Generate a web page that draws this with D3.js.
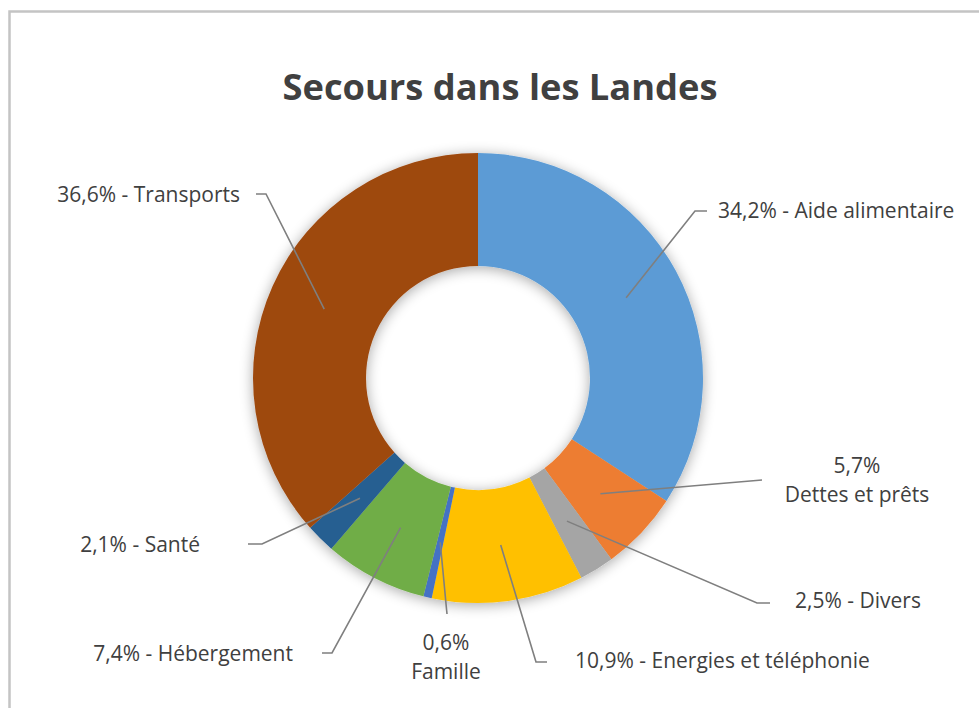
<!DOCTYPE html>
<html>
<head>
<meta charset="utf-8">
<script src="https://cdn.jsdelivr.net/npm/d3@7"></script>
<style>
  body { margin: 0; background: #fff; }
  svg { display: block; }
</style>
</head>
<body>
<div id="chart-area"></div>
<script>
const width = 979;
const height = 708;

// data, clockwise from 12 o'clock
const categories = ["Aide alimentaire", "Dettes et prêts", "Divers", "Energies et téléphonie",
                    "Famille", "Hébergement", "Santé", "Transports"];
const values = [34.2, 5.7, 2.5, 10.9, 0.6, 7.4, 2.1, 36.6];
const labelTexts = ["34,2%", "5,7%", "2,5%", "10,9%", "0,6%", "7,4%", "2,1%", "36,6%"];
const colors = ["#5B9BD5", "#ED7D31", "#A5A5A5", "#FFC000", "#4472C4", "#70AD47", "#255E91", "#9E480E"];

const data = categories.map((c, i) => ({ name: c, value: values[i], pct: labelTexts[i] }));

// label placement (Excel style manual positions): bend / end of leader, text anchor
const labelLayout = {
  "Aide alimentaire":       { pts: [[695, 211], [707, 211]], x: 718, y: 212, anchor: "start" },
  "Dettes et prêts":        { pts: [[762, 480]], x: 857, y: 467, anchor: "middle", twoLines: true },
  "Divers":                 { pts: [[757, 603], [770, 603]], x: 795, y: 602, anchor: "start" },
  "Energies et téléphonie": { pts: [[536, 662], [547, 662]], x: 575, y: 662, anchor: "start" },
  "Famille":                { pts: [[447, 614]], x: 446, y: 644, anchor: "middle", twoLines: true },
  "Hébergement":            { pts: [[332, 653], [322, 653]], x: 293, y: 655, anchor: "end" },
  "Santé":                  { pts: [[262, 544], [248, 544]], x: 200, y: 546, anchor: "end" },
  "Transports":             { pts: [[266, 194], [256, 194]], x: 240, y: 196, anchor: "end" }
};

const cx = 478, cy = 378;
const outerR = 225, innerR = 112;

const svg = d3.select("#chart-area")
    .append("svg")
        .attr("width", width)
        .attr("height", height);

// chart frame (cropped at right/bottom)
svg.append("path")
    .attr("d", `M9.5,${height} V11.5 H${width}`)
    .attr("fill", "none")
    .attr("stroke", "#C4C4C4")
    .attr("stroke-width", 2.5);

const defs = svg.append("defs");
const filter = defs.append("filter")
    .attr("id", "shadow")
    .attr("x", "-20%").attr("y", "-20%")
    .attr("width", "140%").attr("height", "140%");
filter.append("feGaussianBlur").attr("in", "SourceAlpha").attr("stdDeviation", 7).attr("result", "blur");
filter.append("feOffset").attr("in", "blur").attr("dx", 0).attr("dy", 2).attr("result", "off");
filter.append("feComponentTransfer").attr("in", "off").attr("result", "soft")
  .append("feFuncA").attr("type", "linear").attr("slope", 0.35);
const merge = filter.append("feMerge");
merge.append("feMergeNode").attr("in", "soft");
merge.append("feMergeNode").attr("in", "SourceGraphic");

svg.append("text")
    .attr("x", 500)
    .attr("y", 100)
    .attr("text-anchor", "middle")
    .attr("font-family", "'Open Sans', sans-serif")
    .attr("font-weight", "bold")
    .attr("font-size", 35)
    .attr("fill", "#404040")
    .attr("textLength", 435)
    .attr("lengthAdjust", "spacingAndGlyphs")
    .text("Secours dans les Landes");

const pie = d3.pie()
    .value(d => d.value)
    .sort(null);

const arc = d3.arc()
    .innerRadius(innerR)
    .outerRadius(outerR);

const midArc = d3.arc()
    .innerRadius((innerR + outerR) / 2)
    .outerRadius((innerR + outerR) / 2);

const g = svg.append("g")
    .attr("transform", `translate(${cx}, ${cy})`);

const arcs = pie(data);

g.append("g")
    .attr("filter", "url(#shadow)")
  .selectAll("path")
  .data(arcs)
  .enter()
  .append("path")
    .attr("fill", (d, i) => colors[i])
    .attr("d", arc);

// leader lines
svg.append("g").selectAll("polyline")
  .data(arcs)
  .enter()
  .append("polyline")
    .attr("fill", "none")
    .attr("stroke", "#7F7F7F")
    .attr("stroke-width", 1.6)
    .attr("points", d => {
        const c = midArc.centroid(d);
        const start = [c[0] + cx, c[1] + cy];
        return [start].concat(labelLayout[d.data.name].pts).map(p => p.join(",")).join(" ");
    });

// labels
const labels = svg.append("g")
    .attr("font-family", "'Open Sans', sans-serif")
    .attr("font-size", 21)
    .attr("fill", "#404040")
  .selectAll("text")
  .data(arcs)
  .enter()
  .append("text")
    .attr("text-anchor", d => labelLayout[d.data.name].anchor)
    .attr("dominant-baseline", "middle");

labels.each(function(d) {
    const L = labelLayout[d.data.name];
    const t = d3.select(this);
    if (L.twoLines) {
        t.append("tspan").attr("x", L.x).attr("y", L.y).text(d.data.pct);
        t.append("tspan").attr("x", L.x).attr("y", L.y + 29).text(d.data.name);
    } else {
        t.append("tspan").attr("x", L.x).attr("y", L.y).text(`${d.data.pct} - ${d.data.name}`);
    }
});
</script>
</body>
</html>
